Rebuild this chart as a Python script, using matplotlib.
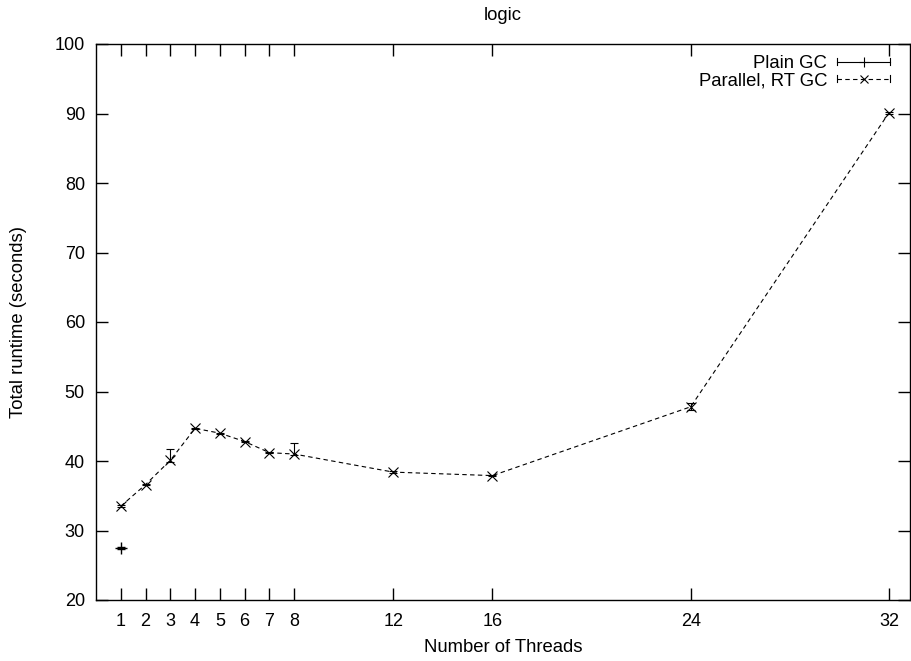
import matplotlib
matplotlib.use("Agg")
import matplotlib.pyplot as plt
from matplotlib.legend_handler import HandlerBase
from matplotlib.lines import Line2D

plt.rcParams["font.family"] = ["Liberation Sans", "DejaVu Sans"]

# Data
threads = [1, 2, 3, 4, 5, 6, 7, 8, 12, 16, 24, 32]
xticks = [1, 2, 3, 4, 5, 6, 7, 8, 12, 16, 24, 32]

plain_threads = [1]
plain_runtime = [27.5]
plain_err_lo = [0.1]
plain_err_hi = [0.1]

par_runtime = [33.5, 36.6, 40.1, 44.7, 44.0, 42.8, 41.2, 41.0, 38.4, 37.9, 47.8, 90.1]
par_err_lo = [0.1, 0.1, 0.2, 0.1, 0.1, 0.1, 0.1, 0.2, 0.1, 0.1, 0.4, 0.1]
par_err_hi = [0.1, 0.1, 1.6, 0.1, 0.1, 0.1, 0.1, 1.6, 0.1, 0.1, 0.6, 0.1]

FS = 13.3
TICK_FS = 13
DASH = (0, (4, 3))


class GnuplotHandler(HandlerBase):
    # line sample with end caps and a marker in the middle, like gnuplot errorbar keys
    def __init__(self, ls, marker, ms):
        super().__init__()
        self.ls = ls
        self.marker = marker
        self.ms = ms

    def create_artists(self, legend, orig_handle, xdescent, ydescent,
                       width, height, fontsize, trans):
        y = height / 2 - ydescent
        x0 = -xdescent
        x1 = -xdescent + width
        cap = height * 0.3
        arts = [
            Line2D([x0, x1], [y, y], color="black", lw=0.8, linestyle=self.ls),
            Line2D([x0, x0], [y - cap, y + cap], color="black", lw=0.8),
            Line2D([x1, x1], [y - cap, y + cap], color="black", lw=0.8),
            Line2D([(x0 + x1) / 2], [y], color="black", marker=self.marker,
                   ms=self.ms, mew=0.8, linestyle="none"),
        ]
        for a in arts:
            a.set_transform(trans)
        return arts


fig = plt.figure(figsize=(9.11, 6.61), dpi=100)
W, H = 911, 661
ax = fig.add_axes([96 / W, 1 - 600 / H, (910 - 96) / W, (600 - 44) / H])

h1 = ax.errorbar(plain_threads, plain_runtime, yerr=[plain_err_lo, plain_err_hi],
                 color="black", marker="+", ms=8, mew=1.0, linestyle="none",
                 elinewidth=0.8, capsize=3, capthick=0.8)
h2 = ax.errorbar(threads, par_runtime, yerr=[par_err_lo, par_err_hi],
                 color="black", marker="x", ms=7, mew=0.8, lw=0.8,
                 linestyle=DASH, elinewidth=0.8, capsize=3, capthick=0.8)
h2[0].set_linestyle(DASH)

ax.set_xlim(0, 32.85)
ax.set_ylim(20, 100)
ax.set_xticks(xticks)
ax.set_yticks(range(20, 101, 10))
ax.tick_params(direction="in", length=8.5, width=1.0, top=True, right=True,
               labelsize=TICK_FS, pad=8)
ax.tick_params(axis="x", pad=9)
for s in ax.spines.values():
    s.set_linewidth(1.0)

fig.text((96 + 910) / 2 / W, 1 - 15 / H, "logic", ha="center", va="center", fontsize=FS)
fig.text((96 + 910) / 2 / W, 1 - 647 / H, "Number of Threads", ha="center",
         va="center", fontsize=FS)
fig.text(19 / W, 1 - 322 / H, "Total runtime (seconds)", ha="center",
         va="center", rotation=90, fontsize=FS)

leg = ax.legend([h1, h2], ["Plain GC", "Parallel, RT GC"], loc="upper right",
                bbox_to_anchor=(1 - 9 / 814, 1),
                markerfirst=False, frameon=False, fontsize=FS, handlelength=2.85,
                handletextpad=0.55, labelspacing=0.0, borderaxespad=0.3,
                borderpad=0.3,
                handler_map={h1: GnuplotHandler("-", "+", 7),
                             h2: GnuplotHandler(DASH, "x", 6)})
for t in leg.get_texts():
    t.set_ha("right")

fig.savefig("out.png", dpi=100)
